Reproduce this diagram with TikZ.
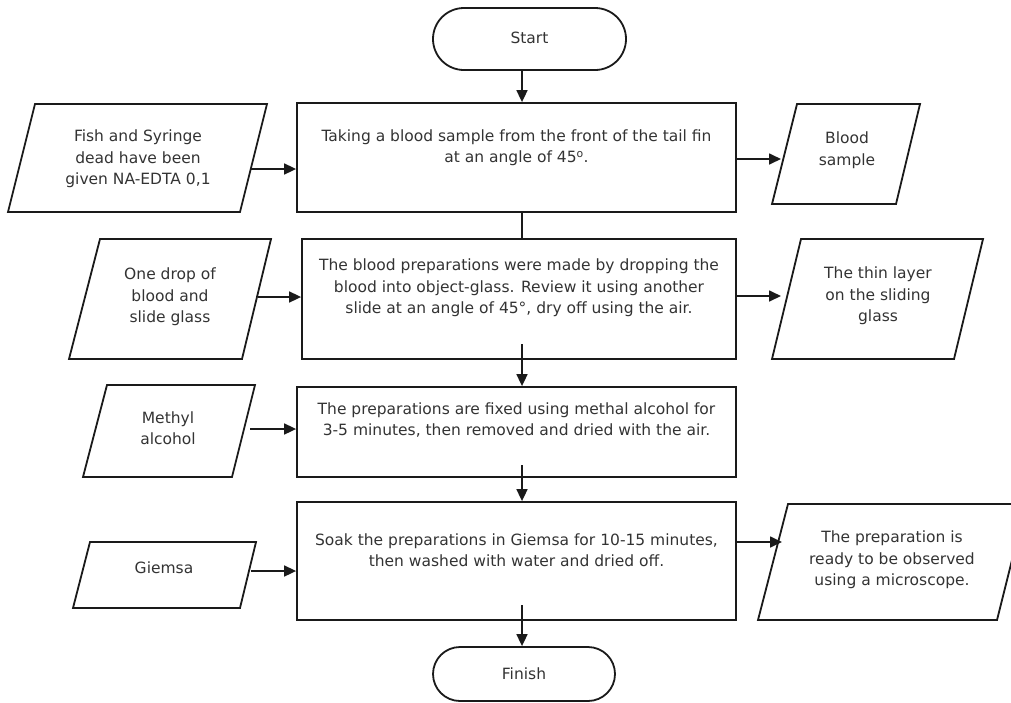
\documentclass[tikz,border=0pt]{standalone}
\usepackage{fontspec}
\setmainfont{DejaVu Sans}
\usetikzlibrary{arrows.meta}
\definecolor{ln}{HTML}{1A1A1A}
\definecolor{tx}{HTML}{333333}
\tikzset{
  shp/.style={draw=ln, line width=1.8pt, line join=miter},
  arr/.style={draw=ln, line width=1.7pt, -{Triangle[length=12pt,width=11pt]}},
  lin/.style={draw=ln, line width=1.7pt},
  txt/.style={text=tx, align=center, inner sep=0pt, font=\fontsize{15.5}{21.5}\selectfont},
  box/.style={shp, rectangle, inner sep=0pt},
}
\begin{document}
\begin{tikzpicture}[x=1pt,y=-1pt]
\useasboundingbox (0,0) rectangle (1011,702);
\clip (0,0) rectangle (1011,702);
% terminals
\node[shp, rectangle, rounded corners=31pt, minimum width=193pt, minimum height=62pt] (start) at (529.5,39) {};
\node[txt] at (529.5,38) {Start};
\node[shp, rectangle, rounded corners=27pt, minimum width=182pt, minimum height=54pt] (finish) at (524,674) {};
\node[txt] at (524,674) {Finish};
% process boxes
\node[box, minimum width=439pt, minimum height=109pt] (b1) at (516.5,157.5) {};
\node[txt] at (516.5,147.5) {Taking a blood sample from the front of the tail fin\\at an angle of 45\textsuperscript{o}.};
\node[box, minimum width=434pt, minimum height=120pt] (b2) at (519,299) {};
\node[txt] at (519,288) {The blood preparations were made by dropping the\\blood into object-glass. Review it using another\\slide at an angle of 45°, dry off using the air.};
\node[box, minimum width=439pt, minimum height=90pt] (b3) at (516.5,432) {};
\node[txt] at (516.5,420) {The preparations are fixed using methal alcohol for\\3-5 minutes, then removed and dried with the air.};
\node[box, minimum width=439pt, minimum height=118pt] (b4) at (516.5,561) {};
\node[txt] at (516.5,550) {Soak the preparations in Giemsa for 10-15 minutes,\\then washed with water and dried off.};
% left parallelograms
\draw[shp] (35,104) -- (267,104) -- (240,212) -- (8,212) -- cycle;
\node[txt] (p1) at (138,159) {Fish and Syringe\\dead have been\\given NA-EDTA 0,1};
\draw[shp] (100,239) -- (271,239) -- (242,359) -- (69,359) -- cycle;
\node[txt] (p2) at (170,297) {One drop of\\blood and\\slide glass};
\draw[shp] (107,385) -- (255,385) -- (232,477) -- (83,477) -- cycle;
\node[txt] (p3) at (168,428) {Methyl\\alcohol};
\draw[shp] (90,542) -- (256,542) -- (240,608) -- (73,608) -- cycle;
\node[txt] (p4) at (164,568) {Giemsa};
% right parallelograms
\draw[shp] (797,104) -- (920,104) -- (896,204) -- (772,204) -- cycle;
\node[txt] (r1) at (847,150) {Blood\\sample};
\draw[shp] (801,239) -- (983,239) -- (954,359) -- (772,359) -- cycle;
\node[txt] (r2) at (878,296) {The thin layer\\on the sliding\\glass};
\draw[shp] (788,504) -- (1026,504) -- (997,620) -- (758,620) -- cycle;
\node[txt] (r4) at (892,560) {The preparation is\\ready to be observed\\using a microscope.};
% connector ends
\coordinate (c1) at (250,169);
\coordinate (c2) at (258,297);
\coordinate (c3) at (250,429);
\coordinate (c4) at (251,571);
\coordinate (o1) at (781,159);
\coordinate (o2) at (781,296);
\coordinate (o4) at (782,542);
\coordinate (s0) at (522,70);
\coordinate (s2) at (522,344);
\coordinate (s3) at (522,465);
\coordinate (s4) at (522,605);
% main flow
\draw[arr] (s0) -- (s0 |- b1.north);
\draw[lin] (s0 |- b1.south) -- (s0 |- b2.north);
\draw[arr] (s2) -- (s2 |- b3.north);
\draw[arr] (s3) -- (s3 |- b4.north);
\draw[arr] (s4) -- (s4 |- finish.north);
% inputs
\draw[arr] (c1) -- (c1 -| b1.west);
\draw[arr] (c2) -- (c2 -| b2.west);
\draw[arr] (c3) -- (c3 -| b3.west);
\draw[arr] (c4) -- (c4 -| b4.west);
% outputs
\draw[arr] (o1 -| b1.east) -- (o1);
\draw[arr] (o2 -| b2.east) -- (o2);
\draw[arr] (o4 -| b4.east) -- (o4);
\end{tikzpicture}
\end{document}
